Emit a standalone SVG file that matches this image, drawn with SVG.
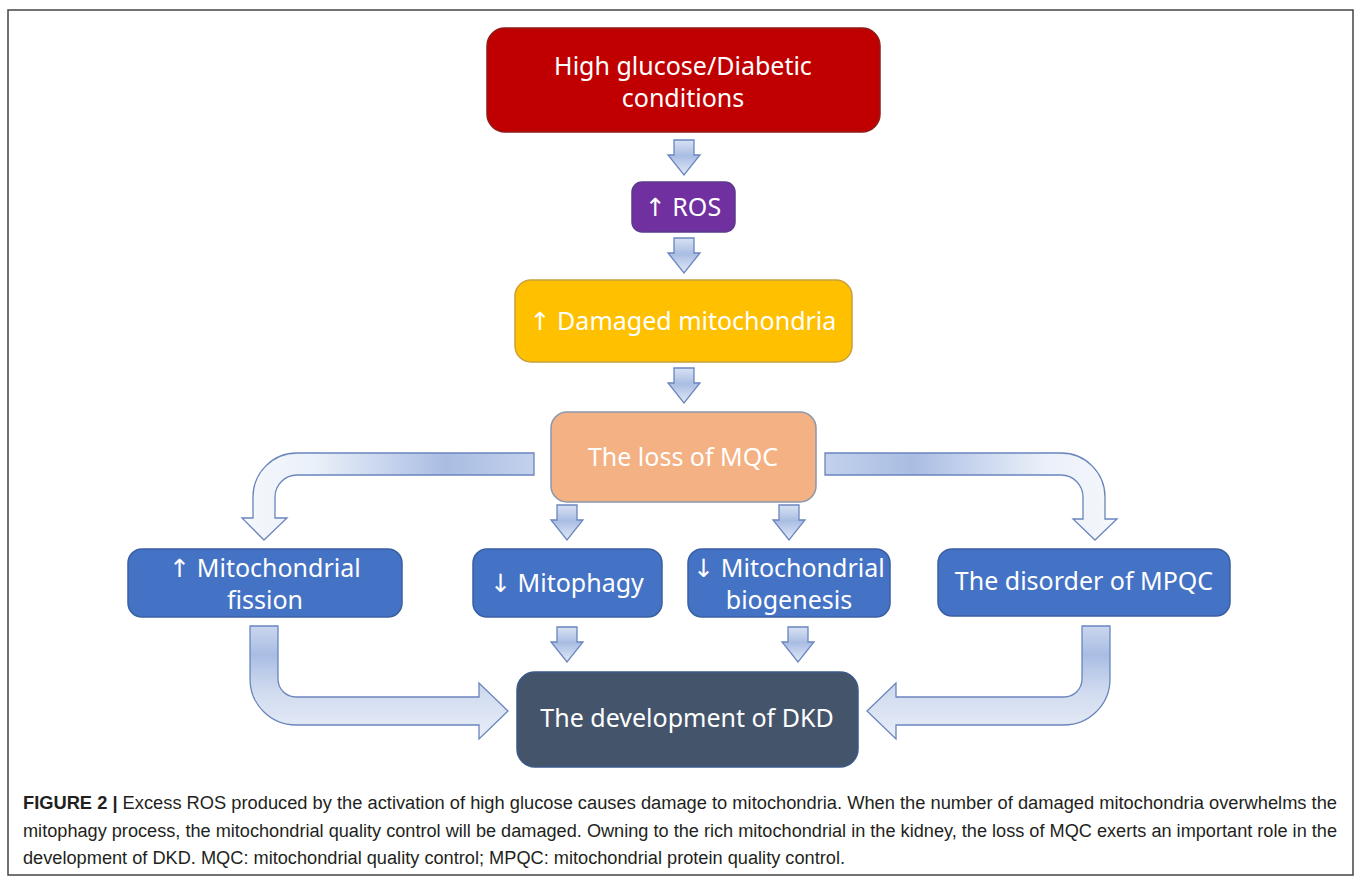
<svg xmlns="http://www.w3.org/2000/svg" xmlns:xlink="http://www.w3.org/1999/xlink" width="1358" height="880" viewBox="0 0 1358 880">
<style>
.box{stroke-width:1.5}
.t{font-family:"Noto Sans","Open Sans","DejaVu Sans",sans-serif;font-size:25px;fill:#ffffff;text-anchor:middle}
.arr{stroke:#6a85bd;stroke-width:1.3}
.cap{font-family:"Liberation Sans",Arial,sans-serif;font-size:18px;fill:#231f20}
</style>
<defs>
<linearGradient id="gs" x1="0" y1="0" x2="0" y2="1">
<stop offset="0" stop-color="#d9e2f3"/>
<stop offset="0.45" stop-color="#a9bde3"/>
<stop offset="1" stop-color="#e1e9f6"/>
</linearGradient>
<linearGradient id="gtl" gradientUnits="userSpaceOnUse" x1="534" y1="0" x2="242" y2="0">
<stop offset="0" stop-color="#c3d1ec"/>
<stop offset="0.3" stop-color="#a9bde3"/>
<stop offset="0.75" stop-color="#eaf0f9"/>
<stop offset="1" stop-color="#f5f8fc"/>
</linearGradient>
<linearGradient id="gtr" gradientUnits="userSpaceOnUse" x1="825" y1="0" x2="1117" y2="0">
<stop offset="0" stop-color="#c3d1ec"/>
<stop offset="0.3" stop-color="#a9bde3"/>
<stop offset="0.75" stop-color="#eaf0f9"/>
<stop offset="1" stop-color="#f5f8fc"/>
</linearGradient>
<linearGradient id="gb" gradientUnits="userSpaceOnUse" x1="0" y1="626" x2="0" y2="740">
<stop offset="0" stop-color="#c9d6ee"/>
<stop offset="0.25" stop-color="#a9bde3"/>
<stop offset="0.6" stop-color="#d3ddf0"/>
<stop offset="1" stop-color="#e9eef8"/>
</linearGradient>
<path id="sd" d="M-10,0 H10 V15 H16 L0,35 L-16,15 H-10 Z"/>
</defs>
<rect x="8" y="10" width="1345" height="865" fill="#ffffff" stroke="#444444" stroke-width="1.5"/>

<g id="connectors">
<use xlink:href="#sd" href="#sd" x="684" y="140" fill="url(#gs)" class="arr"/>
<use xlink:href="#sd" href="#sd" x="684" y="238" fill="url(#gs)" class="arr"/>
<use xlink:href="#sd" href="#sd" x="684" y="368" fill="url(#gs)" class="arr"/>
<use xlink:href="#sd" href="#sd" x="567" y="505" fill="url(#gs)" class="arr"/>
<use xlink:href="#sd" href="#sd" x="789" y="505" fill="url(#gs)" class="arr"/>
<use xlink:href="#sd" href="#sd" x="567" y="627" fill="url(#gs)" class="arr"/>
<use xlink:href="#sd" href="#sd" x="798" y="627" fill="url(#gs)" class="arr"/>
<path class="arr" fill="url(#gtl)" d="M534,453 H297 A44,44 0 0 0 253,497 V518 H242 L264,540 L287,518 H275 V497 A22,22 0 0 1 297,475 H534 Z"/>
<path class="arr" fill="url(#gtr)" d="M825,453 H1061 A44,44 0 0 1 1105,497 V519 H1117 L1095,540 L1073,519 H1083 V497 A22,22 0 0 0 1061,475 H825 Z"/>
<path class="arr" fill="url(#gb)" d="M250,626 H278 V679 A18,18 0 0 0 296,697 H479 V683 L508,711 L479,739 V725 H296 A46,46 0 0 1 250,679 Z"/>
<path class="arr" fill="url(#gb)" d="M1110,626 H1082 V679 A18,18 0 0 1 1064,697 H896 V683 L867,711 L896,739 V725 H1064 A46,46 0 0 0 1110,679 Z"/>
</g>

<g id="n-high-glucose">
<rect class="box" x="487" y="28" width="393" height="104" rx="18" fill="#c00000" stroke="#8f1a1a"/>
<text class="t" x="683" y="75">High glucose/Diabetic</text>
<text class="t" x="683" y="107">conditions</text>
</g>
<g id="n-ros">
<rect class="box" x="632" y="182" width="103" height="50" rx="10" fill="#7030a0" stroke="#5a3a8a"/>
<text class="t" x="683" y="216">↑ ROS</text>
</g>
<g id="n-damaged">
<rect class="box" x="515" y="280" width="337" height="82" rx="16" fill="#ffc000" stroke="#c9a03a"/>
<text class="t" x="683" y="330">↑ Damaged mitochondria</text>
</g>
<g id="n-loss-mqc">
<rect class="box" x="551" y="412" width="265" height="90" rx="16" fill="#f4b183" stroke="#8a96ad"/>
<text class="t" x="683" y="466">The loss of MQC</text>
</g>
<g id="n-fission">
<rect class="box" x="128" y="549" width="274" height="68" rx="14" fill="#4472c4" stroke="#3a5fa3"/>
<text class="t" x="265" y="577">↑ Mitochondrial</text>
<text class="t" x="265" y="609">fission</text>
</g>
<g id="n-mitophagy">
<rect class="box" x="473" y="549" width="189" height="68" rx="14" fill="#4472c4" stroke="#3a5fa3"/>
<text class="t" x="567" y="592">↓ Mitophagy</text>
</g>
<g id="n-biogenesis">
<rect class="box" x="688" y="549" width="202" height="68" rx="14" fill="#4472c4" stroke="#3a5fa3"/>
<text class="t" x="789" y="577">↓ Mitochondrial</text>
<text class="t" x="789" y="609">biogenesis</text>
</g>
<g id="n-mpqc">
<rect class="box" x="938" y="549" width="292" height="67" rx="14" fill="#4472c4" stroke="#3a5fa3"/>
<text class="t" x="1084" y="590">The disorder of MPQC</text>
</g>
<g id="n-dkd">
<rect class="box" x="517" y="672" width="341" height="95" rx="18" fill="#44546a" stroke="#3b5a8a"/>
<text class="t" x="687" y="727">The development of DKD</text>
</g>

<g id="caption">
<text class="cap" x="23" y="809" textLength="1314" lengthAdjust="spacingAndGlyphs"><tspan font-weight="bold">FIGURE 2 |</tspan> Excess ROS produced by the activation of high glucose causes damage to mitochondria. When the number of damaged mitochondria overwhelms the</text>
<text class="cap" x="23" y="837" textLength="1314" lengthAdjust="spacingAndGlyphs">mitophagy process, the mitochondrial quality control will be damaged. Owning to the rich mitochondrial in the kidney, the loss of MQC exerts an important role in the</text>
<text class="cap" x="23" y="864" textLength="822" lengthAdjust="spacingAndGlyphs">development of DKD. MQC: mitochondrial quality control; MPQC: mitochondrial protein quality control.</text>
</g>
</svg>
